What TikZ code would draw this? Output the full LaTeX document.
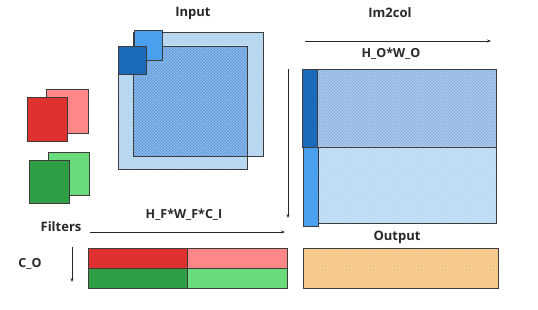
\documentclass[tikz,border=0pt]{standalone}
\usepackage{fontspec}
\setmainfont{Open Sans}
\usetikzlibrary{arrows.meta,patterns}
\definecolor{inkdark}{RGB}{40,40,40}
\definecolor{inkgray}{RGB}{60,60,60}
\definecolor{inpale}{RGB}{170,208,240}
\definecolor{inmid}{RGB}{92,154,222}
\definecolor{blueinner}{RGB}{28,106,186}
\definecolor{bluelite}{RGB}{74,160,238}
\definecolor{colupper}{RGB}{135,178,224}
\definecolor{collower}{RGB}{178,215,245}
\definecolor{redfull}{RGB}{224,49,49}
\definecolor{redpale}{RGB}{255,135,135}
\definecolor{greenfull}{RGB}{47,158,68}
\definecolor{greenpale}{RGB}{105,219,124}
\definecolor{outorange}{RGB}{245,190,115}

\begin{document}
\begin{tikzpicture}[x=1pt,y=-1pt]
    % Style definitions
    \tikzset{
      box/.style={draw=inkgray, line width=0.6pt},
      ttl/.style={font=\fontsize{13}{15}\selectfont\bfseries, text=inkdark},
      dimlbl/.style={font=\fontsize{12.5}{15}\selectfont\bfseries, text=inkdark},
      dimarrow/.style={-{Stealth[length=4pt,width=3pt]}, draw=inkdark, line width=0.6pt},
    }
    % ------------------------------------------------------------------
    % Helper macro: hatched box from (#1,#2) to (#3,#4) in colour #5
    % ------------------------------------------------------------------
    \newcommand{\hatchbox}[5]{%
      \fill[#5] (#1,#2) rectangle (#3,#4);
      \fill[pattern=north east lines, pattern color=white, opacity=0.3] (#1,#2) rectangle (#3,#4);
      \fill[pattern=north west lines, pattern color=white, opacity=0.3] (#1,#2) rectangle (#3,#4);
    }
    \useasboundingbox (0,0) rectangle (538,310);

    % Input: two channels, overlap darker, kernel window on top
    \hatchbox{133}{32}{263}{156}{inpale}
    \hatchbox{118}{46}{247}{169}{inpale}
    \hatchbox{133}{46}{247}{156}{inmid}
    \draw[box] (133,32) rectangle (263,156);
    \draw[box] (118,46) rectangle (247,169);
    \draw[box, fill=bluelite] (134,30) rectangle (162,60);
    \draw[box, fill=blueinner] (118,46) rectangle (146,74);

    % Filters: two filters, two channels each
    \draw[box, fill=redpale] (46,89) rectangle (88,133);
    \draw[box, fill=redfull] (27,97) rectangle (67,141);
    \draw[box, fill=greenpale] (48,152) rectangle (89,195);
    \draw[box, fill=greenfull] (29,160) rectangle (69,203);

    % Im2col matrix: one row block per input channel
    \hatchbox{302}{69}{496}{147}{colupper}
    \draw[box] (302,69) rectangle (496,147);
    \hatchbox{303}{147}{496}{223}{collower}
    \draw[box] (303,147) rectangle (496,223);
    \draw[box, fill=blueinner] (302,69) rectangle (317,147);
    \draw[box, fill=bluelite] (303,147) rectangle (318,226);

    % Filter matrix
    \draw[box, fill=redfull] (88,248) rectangle (187,268);
    \draw[box, fill=redpale] (187,248) rectangle (287,268);
    \draw[box, fill=greenfull] (88,268) rectangle (187,288);
    \draw[box, fill=greenpale] (187,268) rectangle (287,288);

    % Output matrix
    \hatchbox{303}{248}{498}{288}{outorange}
    \draw[box] (303,248) rectangle (498,288);

    % Titles and dimension labels
    \node[ttl] (input) at (193,13) {Input};
    \node[ttl] (im2col) at (390,13) {Im2col};
    \node[ttl] (filters) at (61,227) {Filters};
    \node[ttl] (output) at (397,237) {Output};
    \node[dimlbl] (howo) at (391,54) {H\_O*W\_O};
    \node[dimlbl] (hwc) at (184,215) {H\_F*W\_F*C\_I};
    \node[dimlbl] (co) at (30,264) {C\_O};

    % Dimension arrows
    \coordinate (colL) at (305,41);
    \coordinate (colR) at (491,41);
    \coordinate (rowT) at (288,69);
    \coordinate (rowB) at (288,218);
    \coordinate (fltL) at (90,232);
    \coordinate (fltR) at (285,232);
    \coordinate (coT) at (72,247);
    \coordinate (coB) at (72,282);
    \draw[dimarrow] (colL) -- (colR);
    \draw[dimarrow] (rowT) -- (rowB);
    \draw[dimarrow] (fltL) -- (fltR);
    \draw[dimarrow] (coT) -- (coB);
\end{tikzpicture}
\end{document}
